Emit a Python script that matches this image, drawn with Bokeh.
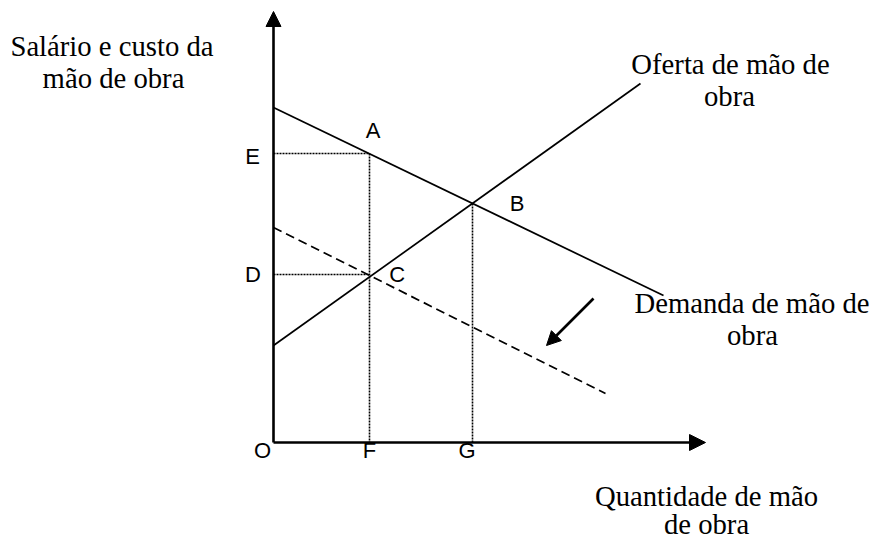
from bokeh.plotting import figure
from bokeh.models import Range1d, Arrow, NormalHead
from bokeh.core.properties import value
from bokeh.embed import file_html
from bokeh.resources import INLINE

# ---- data (quantity q, wage w) ----
demand_q = [0, 390]
demand_w = [335, 147]
supply_q = [0, 367]
supply_w = [97, 359]
new_demand_q = [0, 332]
new_demand_w = [215, 49]

point_names = ["A", "B", "C"]
point_q = [96, 199, 96]
point_w = [289, 239, 168]

q_axis_max = 432
w_axis_max = 431

shift_from = [320, 144]
shift_to = [273, 97]

y_title = ["Salário e custo da", "mão de obra"]
x_title = ["Quantidade de mão", "de obra"]
supply_label = ["Oferta de mão de", "obra"]
demand_label = ["Demanda de mão de", "obra"]

# ---- figure ----
p = figure(width=874, height=539, x_range=Range1d(-273, 601), y_range=Range1d(-97, 442),
           output_backend="svg", toolbar_location=None, x_axis_type=None, y_axis_type=None,
           min_border=0)
p.grid.visible = False
p.outline_line_color = None
p.background_fill_color = "white"
p.border_fill_color = "white"

# axes with arrows
p.add_layout(Arrow(end=NormalHead(size=16, fill_color="black", line_color="black"),
                   x_start=0, y_start=0, x_end=q_axis_max, y_end=0,
                   line_width=2.6, line_color="black"))
p.add_layout(Arrow(end=NormalHead(size=15, fill_color="black", line_color="black"),
                   x_start=0, y_start=0, x_end=0, y_end=w_axis_max,
                   line_width=2.6, line_color="black"))

# curves
p.line(demand_q, demand_w, line_color="black", line_width=1.7)
p.line(supply_q, supply_w, line_color="black", line_width=1.7)
p.line(new_demand_q, new_demand_w, line_color="black", line_width=1.7, line_dash="9 5")

# dotted guides
A_q, B_q, C_q = point_q
A_w, B_w, C_w = point_w
p.segment(x0=[0, A_q, 0, B_q], y0=[A_w, A_w, C_w, B_w],
          x1=[A_q, A_q, C_q, B_q], y1=[A_w, 0, C_w, 0],
          line_color="black", line_width=1.6, line_dash="2 1")

# shift arrow
p.add_layout(Arrow(end=NormalHead(size=14, fill_color="black", line_color="black"),
                   x_start=shift_from[0], y_start=shift_from[1],
                   x_end=shift_to[0], y_end=shift_to[1],
                   line_width=2.6, line_color="black"))

sans = value("Liberation Sans")
serif = value("Liberation Serif")
fs_letter = "22px"
fs_title = "28.7px"

# point letters
p.text(x=point_q, y=point_w, text=point_names, text_font=sans, text_font_size=fs_letter,
       text_align="center", text_baseline="alphabetic",
       x_offset=[3.5, 44.5, 27.7], y_offset=[-23, -0.5, 0], text_color="black")
# axis letters
p.text(x=[0, 0], y=[A_w, C_w], text=["E", "D"], text_font=sans, text_font_size=fs_letter,
       text_align="center", text_baseline="alphabetic",
       x_offset=[-21, -20.5], y_offset=[2.5, 0], text_color="black")
p.text(x=[0, A_q, B_q], y=[0, 0, 0], text=["O", "F", "G"], text_font=sans,
       text_font_size=fs_letter, text_align="center", text_baseline="alphabetic",
       x_offset=[-11, 0, -5.5], y_offset=[7.5, 7.5, 8], text_color="black")

# titles
p.text(x=[-161.5, -160], y=[396.7, 364.3], text=y_title, text_font=serif,
       text_font_size=fs_title, text_align="center", text_baseline="alphabetic", text_color="black")
p.text(x=[433, 433], y=[-53, -81], text=x_title, text_font=serif,
       text_font_size=fs_title, text_align="center", text_baseline="alphabetic", text_color="black")
p.text(x=[457, 456], y=[379, 347], text=supply_label, text_font=serif,
       text_font_size=fs_title, text_align="center", text_baseline="alphabetic", text_color="black")
p.text(x=[478.5, 479], y=[139.3, 107.7], text=demand_label, text_font=serif,
       text_font_size=fs_title, text_align="center", text_baseline="alphabetic", text_color="black")

open("out.html", "w").write(file_html(p, INLINE))
